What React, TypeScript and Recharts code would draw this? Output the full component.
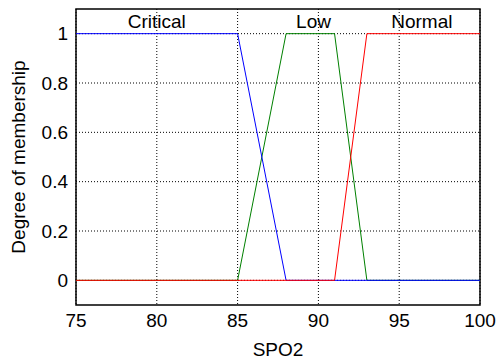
import React from 'react';
import {
  LineChart,
  Line,
  XAxis,
  YAxis,
  CartesianGrid,
  ReferenceArea,
  ReferenceDot,
} from 'recharts';

// breakpoints shared by all three membership functions (SPO2 %)
const spo2 = [75, 85, 88, 91, 93, 100];
const critical = [1, 1, 0, 0, 0, 0];
const low = [0, 0, 1, 1, 0, 0];
const normal = [0, 0, 0, 0, 1, 1];

const xTicks = [75, 80, 85, 90, 95, 100];
const yTicks = [0, 0.2, 0.4, 0.6, 0.8, 1];

const mfNames = ['Critical', 'Low', 'Normal'];
const mfLabelX = [80, 89.7, 96.4];

const data = spo2.map((x, i) => ({
  x,
  critical: critical[i],
  low: low[i],
  normal: normal[i],
}));

const font = '"Liberation Sans", Arial, sans-serif';
const fs = 19;

export default function App() {
  return (
    <div style={{ position: 'absolute', left: 0, top: 0, background: '#fff' }}>
      <LineChart
        width={498}
        height={361}
        data={data}
        margin={{ top: 9, right: 18, left: 0, bottom: 0 }}
      >
        <CartesianGrid
          stroke="#000"
          strokeDasharray="1 2"
          horizontalValues={yTicks}
          verticalValues={xTicks}
        />
        <XAxis
          type="number"
          dataKey="x"
          domain={[75, 100]}
          ticks={xTicks}
          allowDataOverflow
          height={56}
          tickSize={0}
          tickMargin={9}
          axisLine={false}
          tick={{ fill: '#000', fontSize: fs, fontFamily: font }}
          label={{
            value: 'SPO2',
            position: 'insideBottom',
            offset: 5,
            fill: '#000',
            fontSize: fs,
            fontFamily: font,
          }}
        />
        <YAxis
          type="number"
          domain={[-0.1, 1.1]}
          ticks={yTicks}
          allowDataOverflow
          width={76}
          tickSize={0}
          tickMargin={8}
          axisLine={false}
          tickFormatter={(v: number) => String(Math.round(v * 10) / 10)}
          tick={{ fill: '#000', fontSize: fs, fontFamily: font }}
          label={{
            value: 'Degree of membership',
            angle: -90,
            position: 'center',
            dx: -20,
            fill: '#000',
            fontSize: fs,
            fontFamily: font,
          }}
        />
        <Line type="linear" dataKey="low" stroke="#008000" strokeWidth={1} dot={false} isAnimationActive={false} />
        <Line type="linear" dataKey="critical" stroke="#0000ff" strokeWidth={1} dot={false} isAnimationActive={false} />
        <Line type="linear" dataKey="normal" stroke="#ff0000" strokeWidth={1} dot={false} isAnimationActive={false} />
        <ReferenceArea x1={75} x2={100} y1={-0.1} y2={1.1} fill="none" stroke="#000" strokeWidth={1.5} />
        {mfNames.map((name, i) => (
          <ReferenceDot
            key={name}
            x={mfLabelX[i]}
            y={1.052}
            r={0}
            fill="none"
            stroke="none"
            label={{ value: name, position: 'center', fill: '#000', fontSize: fs, fontFamily: font }}
          />
        ))}
      </LineChart>
    </div>
  );
}
